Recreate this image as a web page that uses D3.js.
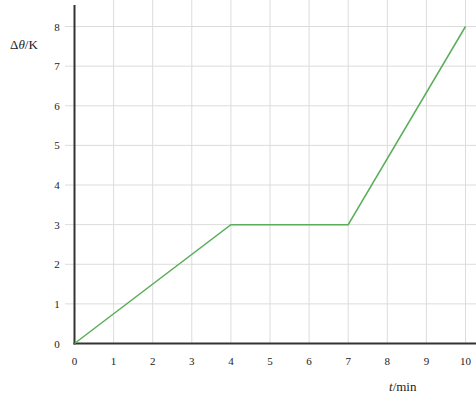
<!DOCTYPE html>
<html>
<head>
<meta charset="utf-8">
<script src="https://cdn.jsdelivr.net/npm/d3@7"></script>
<style>
body{margin:0;background:#fff;}
text{font-family:"Liberation Serif","DejaVu Serif",serif;fill:#222;}
</style>
</head>
<body>
<script>
// data
var tValues=[0,4,7,10];
var dThetaValues=[0,3,3,8];
var xTicks=[0,1,2,3,4,5,6,7,8,9,10];
var yTicks=[0,1,2,3,4,5,6,7,8];

var W=476,H=399;
var svg=d3.select("body").append("svg")
          .attr("width",W)
          .attr("height",H);

var x=d3.scaleLinear().domain([0,10]).range([74.5,465.5]);
var y=d3.scaleLinear().domain([0,8]).range([343.5,26.5]);

// grid
svg.append("g").selectAll("line").data(xTicks.slice(1)).enter().append("line")
   .attr("x1",function(d){return x(d);})
   .attr("x2",function(d){return x(d);})
   .attr("y1",0)
   .attr("y2",y(0))
   .attr("stroke","#dcdcdc")
   .attr("stroke-width",1);
svg.append("g").selectAll("line").data(yTicks.slice(1)).enter().append("line")
   .attr("x1",65)
   .attr("x2",W)
   .attr("y1",function(d){return y(d);})
   .attr("y2",function(d){return y(d);})
   .attr("stroke","#dcdcdc")
   .attr("stroke-width",1);

// axes lines
svg.append("line").attr("x1",x(0)).attr("x2",x(0)).attr("y1",5).attr("y2",y(0)+1)
   .attr("stroke","#333").attr("stroke-width",2);
svg.append("line").attr("x1",x(0)-1).attr("x2",W).attr("y1",y(0)).attr("y2",y(0))
   .attr("stroke","#333").attr("stroke-width",2);

// tick labels
svg.append("g").selectAll("text").data(xTicks).enter().append("text")
   .attr("x",function(d){return x(d);})
   .attr("y",365)
   .attr("text-anchor","middle")
   .attr("font-size",11)
   .text(function(d){return d;});
svg.append("g").selectAll("text").data(yTicks).enter().append("text")
   .attr("x",57)
   .attr("y",function(d){return y(d)+4;})
   .attr("text-anchor","middle")
   .attr("font-size",11)
   .text(function(d){return d;});

// axis titles
var yt=svg.append("text").attr("x",10).attr("y",49).attr("font-size",13);
yt.append("tspan").text("Δ");
yt.append("tspan").attr("font-style","italic").text("θ");
yt.append("tspan").text("/K");
var xt=svg.append("text").attr("x",389).attr("y",391).attr("font-size",13);
xt.append("tspan").attr("font-style","italic").text("t");
xt.append("tspan").text("/min");

// the curve
var pts=tValues.map(function(t,i){return [t,dThetaValues[i]];});
var line=d3.line().x(function(d){return x(d[0]);}).y(function(d){return y(d[1]);});
svg.append("path").datum(pts)
   .attr("d",line)
   .attr("fill","none")
   .attr("stroke","#5aae5a")
   .attr("stroke-width",1.5);
</script>
</body>
</html>
